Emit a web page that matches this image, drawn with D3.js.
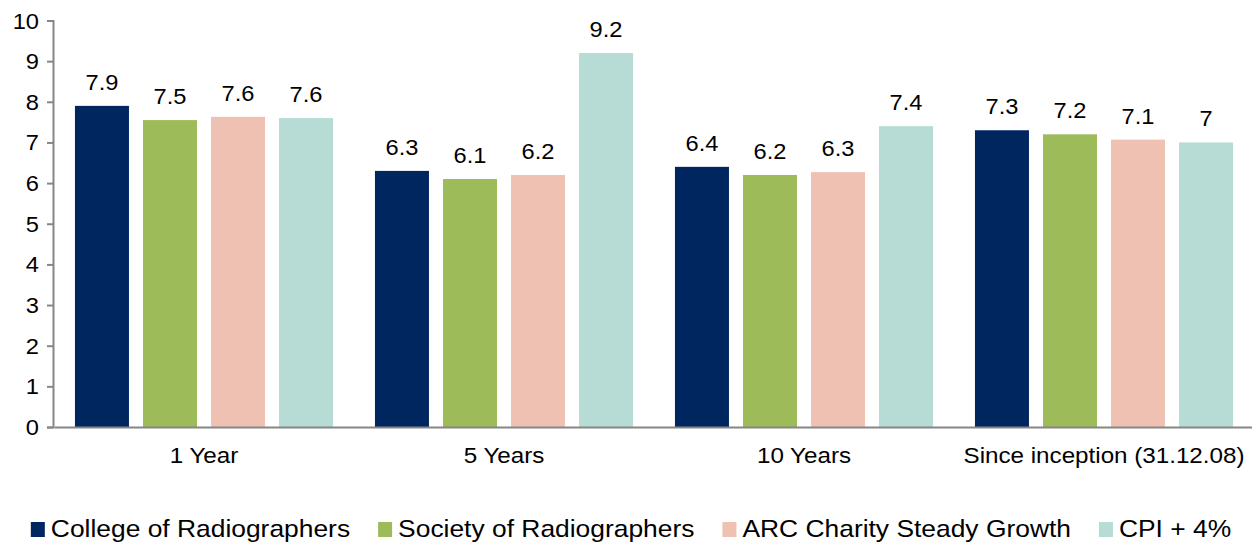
<!DOCTYPE html>
<html>
<head>
<meta charset="utf-8">
<script src="https://cdn.jsdelivr.net/npm/d3@7"></script>
<style>
  html, body { margin: 0; padding: 0; background: #fff; }
  svg { display: block; font-family: "Liberation Sans", Arial, sans-serif; }
</style>
</head>
<body>
<svg id="chart" width="1252" height="542"></svg>
<script>
const categories = ["1 Year", "5 Years", "10 Years", "Since inception (31.12.08)"];
const seriesNames = ["College of Radiographers", "Society of Radiographers", "ARC Charity Steady Growth", "CPI + 4%"];
const college = [7.9, 6.3, 6.4, 7.3];
const society = [7.55, 6.1, 6.2, 7.2];
const arc = [7.63, 6.2, 6.27, 7.07];
const cpi = [7.6, 9.2, 7.4, 7.0];
const labelsCollege = ["7.9", "6.3", "6.4", "7.3"];
const labelsSociety = ["7.5", "6.1", "6.2", "7.2"];
const labelsArc = ["7.6", "6.2", "6.3", "7.1"];
const labelsCpi = ["7.6", "9.2", "7.4", "7"];
const yTicks = [0, 1, 2, 3, 4, 5, 6, 7, 8, 9, 10];
const colors = ["#002660", "#9dbb59", "#efc1b3", "#b6dcd5"];

const seriesValues = [college, society, arc, cpi];
const seriesLabels = [labelsCollege, labelsSociety, labelsArc, labelsCpi];

const svg = d3.select("#chart");
const stretch = 1.1;
const axisColor = "#868686";

const x0 = d3.scaleBand().domain(categories).range([54, 1254]).paddingInner(0).paddingOuter(0);
const x1 = d3.scaleBand().domain(seriesNames).range([0, 300]).paddingInner(0.206).paddingOuter(0.308);
const y = d3.scaleLinear().domain([0, 10]).range([427, 20.5]);

// bars
const groups = svg.append("g").selectAll("g")
  .data(categories)
  .join("g")
  .attr("transform", d => `translate(${x0(d)},0)`);

groups.each(function(cat, ci) {
  const g = d3.select(this);
  seriesNames.forEach((s, si) => {
    const v = seriesValues[si][ci];
    g.append("rect")
      .attr("x", x1(s))
      .attr("y", y(v))
      .attr("width", x1.bandwidth())
      .attr("height", y(0) - y(v))
      .attr("fill", colors[si]);
    g.append("text")
      .attr("transform", `translate(${x1(s) + x1.bandwidth() / 2},${y(v) - 16}) scale(${stretch},1)`)
      .attr("text-anchor", "middle")
      .attr("font-size", 21.5)
      .attr("fill", "#000")
      .text(seriesLabels[si][ci]);
  });
});

// y axis
const yAxis = d3.axisLeft(y).tickValues(yTicks).tickSize(6).tickSizeOuter(6).tickFormat(d3.format("d"));
const yg = svg.append("g").attr("transform", "translate(53,0)").call(yAxis);
yg.select(".domain").attr("stroke", axisColor).attr("stroke-width", 2);
yg.selectAll(".tick line").attr("stroke", axisColor).attr("stroke-width", 2);
yg.selectAll(".tick text")
  .attr("font-size", 21.5)
  .attr("font-family", "Liberation Sans, Arial, sans-serif")
  .attr("fill", "#000")
  .attr("x", null)
  .attr("dy", null)
  .attr("text-anchor", "end")
  .attr("transform", `translate(-14,7.5) scale(${stretch},1)`);

// x axis
const xAxis = d3.axisBottom(x0).tickSize(0).tickSizeOuter(0);
const xg = svg.append("g").attr("transform", `translate(0,${y(0)})`).call(xAxis);
xg.select(".domain").attr("stroke", axisColor).attr("stroke-width", 2);
xg.selectAll(".tick text")
  .attr("font-size", 22)
  .attr("font-family", "Liberation Sans, Arial, sans-serif")
  .attr("fill", "#000")
  .attr("y", null)
  .attr("dy", null)
  .attr("transform", `translate(0,36) scale(${stretch},1)`);

// legend
const legend = svg.append("g");
const items = legend.selectAll("g").data(seriesNames).join("g");
items.append("rect")
  .attr("width", 14).attr("height", 15)
  .attr("y", -15)
  .attr("fill", (d, i) => colors[i]);
items.append("text")
  .attr("font-size", 24)
  .attr("fill", "#000")
  .attr("transform", `translate(20,0) scale(${stretch},1)`)
  .text(d => d);
let cx = 0;
const positions = [];
items.each(function() {
  const w = d3.select(this).select("text").node().getComputedTextLength() * stretch;
  positions.push(cx);
  cx += 20 + w + 28;
});
const total = cx - 28;
const startX = 631 - total / 2;
items.attr("transform", (d, i) => `translate(${startX + positions[i]},537)`);
</script>
</body>
</html>
